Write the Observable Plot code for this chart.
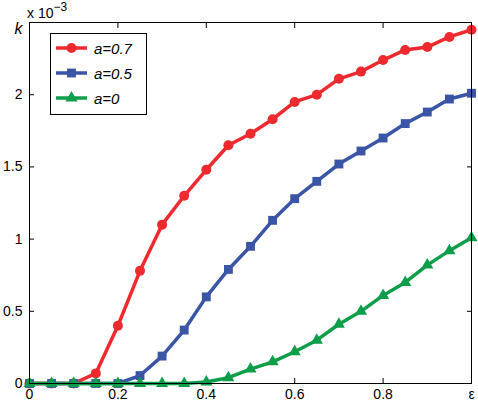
<!DOCTYPE html>
<html><head>
<meta charset="utf-8">
<script src="https://cdn.jsdelivr.net/npm/d3@7"></script>
<script src="https://cdn.jsdelivr.net/npm/@observablehq/plot@0.6"></script>
<style>body{margin:0;background:#fff}</style>
</head><body><div id="chart"></div>
<script>
const eps = [0,0.05,0.1,0.15,0.2,0.25,0.3,0.35,0.4,0.45,0.5,0.55,0.6,0.65,0.7,0.75,0.8,0.85,0.9,0.95,1];
const k07 = [0,0,0,0.07,0.40,0.78,1.10,1.30,1.48,1.65,1.73,1.83,1.95,2.00,2.11,2.16,2.24,2.31,2.33,2.40,2.45];
const k05 = [0,0,0,0,0,0.055,0.19,0.37,0.60,0.79,0.95,1.13,1.28,1.40,1.52,1.61,1.70,1.80,1.88,1.97,2.01];
const k0  = [0,0,0,0,0,0,0,0,0.01,0.04,0.10,0.15,0.22,0.30,0.41,0.50,0.61,0.70,0.82,0.92,1.01];
const seriesNames = ["a=0.7","a=0.5","a=0"];
const colors = ["#ee2a2f","#3a54a6","#0e9e4a"];
const symbols = ["circle","square","triangle"];
const symbolR = [5,5,4.5];
const xTicks = [0,0.2,0.4,0.6,0.8,1];
const xTickLabels = ["0","0.2","0.4","0.6","0.8","ε"];
const yTicks = [0,0.5,1,1.5,2,2.5];
const yTickLabels = ["0","0.5","1","1.5","2","k"];

const values = [k07,k05,k0];
const data = seriesNames.flatMap((a,s)=>eps.map((e,i)=>({eps:e,k:values[s][i],a})));

const font = "'Liberation Sans', Arial, Helvetica, sans-serif";
const seriesMarks = seriesNames.flatMap((a,s)=>{
  const d = data.filter(r=>r.a===a);
  return [
    Plot.line(d,{x:"eps",y:"k",stroke:colors[s],strokeWidth:3.5}),
    Plot.dot(d,{x:"eps",y:"k",fill:colors[s],stroke:"none",symbol:()=>symbols[s],r:symbolR[s]})
  ];
});

const chart = Plot.plot({
  width:478, height:406,
  marginLeft:29, marginRight:7, marginTop:22, marginBottom:23,
  style:{fontFamily:font, fontSize:"14px", color:"#000", background:"#fff"},
  x:{domain:[0,1]},
  y:{domain:[0,2.5]},
  symbol:{domain:symbols, range:symbols},
  marks:[
    Plot.axisX(xTicks,{anchor:"bottom",tickSize:-5,tickPadding:11,label:null,fontSize:14,tickFormat:d=>xTickLabels[xTicks.indexOf(d)]}),
    Plot.axisX(xTicks.slice(1,-1),{anchor:"top",tickSize:-5,label:null,tickFormat:()=>""}),
    Plot.axisY(yTicks,{anchor:"left",tickSize:-5,tickPadding:12,label:null,fontSize:14,tickFormat:d=>yTickLabels[yTicks.indexOf(d)]}),
    Plot.axisY(yTicks.slice(1,-1),{anchor:"right",tickSize:-5,label:null,tickFormat:()=>""}),
    ...seriesMarks,
    Plot.frame({stroke:"#000",strokeWidth:1})
  ]
});
document.getElementById("chart").appendChild(chart);

const svg = d3.select(chart);
// italic k label
svg.selectAll("text").filter(function(){return this.textContent==="k";})
  .attr("font-style","italic").attr("font-size",16).attr("dy","0.4em");

// exponent label
const x0 = chart.scale("x").apply(0);
const exp = svg.append("text").attr("x",x0-2).attr("y",18).attr("text-anchor","start")
  .attr("font-family",font).attr("font-size",14).attr("fill","#000");
exp.append("tspan").text("x 10");
exp.append("tspan").attr("dy",-7).attr("font-size",12).text("−3");

// legend
const lg = svg.append("g").attr("font-family",font).attr("text-anchor","start");
lg.append("rect").attr("x",50.5).attr("y",33.5).attr("width",96).attr("height",81).attr("fill","#fff").attr("stroke","#000");
seriesNames.forEach((a,s)=>{
  const cy = 48 + s*25;
  lg.append("line").attr("x1",56).attr("x2",87).attr("y1",cy).attr("y2",cy).attr("stroke",colors[s]).attr("stroke-width",3.5);
  lg.append("path").attr("transform",`translate(71.5,${cy})`).attr("fill",colors[s])
    .attr("d",d3.symbol(s===0?d3.symbolCircle:s===1?d3.symbolSquare:d3.symbolTriangle, Math.PI*symbolR[s]*symbolR[s])());
  lg.append("text").attr("x",94).attr("y",cy+5.5).attr("font-style","italic").attr("font-size",15).attr("fill","#000").text(a);
});
</script>
</body></html>
